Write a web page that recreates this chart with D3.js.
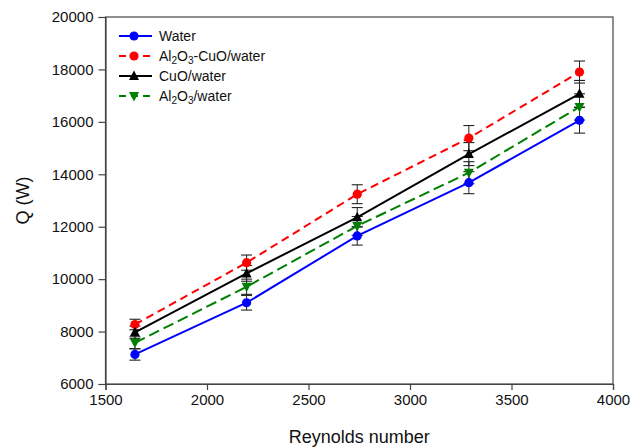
<!DOCTYPE html>
<html><head><meta charset="utf-8">
<script src="https://cdn.jsdelivr.net/npm/d3@7"></script>
<style>body{margin:0;background:#fff}svg{display:block;font-family:"Liberation Sans",Arial,sans-serif}</style>
</head><body><svg id="c" width="644" height="448"></svg>
<script>
const reynolds = [1645, 2195, 2740, 3290, 3835];
const water = [7130, 9100, 11650, 13680, 16060];
const waterErr = [220, 280, 350, 420, 490];
const hybrid = [8270, 10630, 13240, 15380, 17900];
const hybridErr = [200, 290, 360, 480, 420];
const cuo = [7970, 10220, 12360, 14770, 17070];
const cuoErr = [240, 300, 370, 440, 510];
const al2o3 = [7570, 9710, 12030, 14060, 16570];
const al2o3Err = [230, 290, 360, 420, 500];
const xTicks = [1500, 2000, 2500, 3000, 3500, 4000];
const yTicks = [6000, 8000, 10000, 12000, 14000, 16000, 18000, 20000];

const series = [
  {name: "Water", vals: water, err: waterErr, color: "#0000ff", dash: null, sym: "circle"},
  {name: "Al2O3-CuO/water", vals: hybrid, err: hybridErr, color: "#ff0000", dash: "8,5", sym: "circle"},
  {name: "CuO/water", vals: cuo, err: cuoErr, color: "#000000", dash: null, sym: "up"},
  {name: "Al2O3/water", vals: al2o3, err: al2o3Err, color: "#008000", dash: "11,5", sym: "down"}
];

const svg = d3.select("#c");
const L = 105.5, R = 613, T = 17, B = 384;
const x = d3.scaleLinear().domain([1500, 4000]).range([L, R]);
const y = d3.scaleLinear().domain([6000, 20000]).range([B, T]);
const axisColor = "#444";

svg.append("rect").attr("x", L).attr("y", T).attr("width", R - L).attr("height", B - T)
  .attr("fill", "none").attr("stroke", axisColor).attr("stroke-width", 1.2);

const xa = svg.append("g").attr("transform", `translate(0,${B})`)
  .call(d3.axisBottom(x).tickValues(xTicks).tickSize(6).tickPadding(4).tickFormat(d3.format("d")));
const ya = svg.append("g").attr("transform", `translate(${L},0)`)
  .call(d3.axisLeft(y).tickValues(yTicks).tickSize(7).tickPadding(5).tickFormat(d3.format("d")));
[xa, ya].forEach(a => {
  a.select(".domain").attr("stroke", axisColor).attr("stroke-width", 1.2);
  a.selectAll(".tick line").attr("stroke", axisColor).attr("stroke-width", 1.2);
  a.selectAll("text").attr("font-size", 15).attr("fill", "#111").attr("font-family", "Liberation Sans, Arial, sans-serif");
});

svg.append("text").attr("x", (L + R) / 2).attr("y", 443).attr("text-anchor", "middle")
  .attr("font-size", 18).attr("fill", "#111").text("Reynolds number");
svg.append("text").attr("transform", `translate(29,${(T + B) / 2}) rotate(-90)`).attr("text-anchor", "middle")
  .attr("font-size", 18).attr("fill", "#111").text("Q (W)");

function drawSym(g, s, cx, cy) {
  if (s.sym === "circle") {
    g.append("circle").attr("cx", cx).attr("cy", cy).attr("r", 4.6).attr("fill", s.color);
  } else {
    const h = 5;
    const pts = s.sym === "up"
      ? [[cx, cy - h - 0.5], [cx - h, cy + h - 1], [cx + h, cy + h - 1]]
      : [[cx, cy + h + 0.5], [cx - h, cy - h + 1], [cx + h, cy - h + 1]];
    g.append("polygon").attr("points", pts.map(p => p.join(",")).join(" ")).attr("fill", s.color);
  }
}

const line = d3.line().x((d, i) => x(reynolds[i])).y(d => y(d));
const plot = svg.append("g");
series.forEach(s => {
  s.vals.forEach((v, i) => {
    const cx = x(reynolds[i]);
    const y1 = y(v + s.err[i]), y2 = y(v - s.err[i]);
    plot.append("line").attr("x1", cx).attr("x2", cx).attr("y1", y1).attr("y2", y2).attr("stroke", "#222").attr("stroke-width", 1);
    [y1, y2].forEach(yy => plot.append("line").attr("x1", cx - 5.5).attr("x2", cx + 5.5).attr("y1", yy).attr("y2", yy).attr("stroke", "#222").attr("stroke-width", 1.1));
  });
});
series.forEach(s => {
  plot.append("path").attr("d", line(s.vals)).attr("fill", "none").attr("stroke", s.color)
    .attr("stroke-width", 2).attr("stroke-dasharray", s.dash);
  s.vals.forEach((v, i) => drawSym(plot, s, x(reynolds[i]), y(v)));
});

const lg = svg.append("g");
const rows = [36, 56, 76, 96];
series.forEach((s, k) => {
  const yy = rows[k];
  lg.append("line").attr("x1", 119).attr("x2", 152).attr("y1", yy).attr("y2", yy)
    .attr("stroke", s.color).attr("stroke-width", 2).attr("stroke-dasharray", s.dash ? "7,5" : null);
  drawSym(lg, s, 134, yy);
  const t = lg.append("text").attr("x", 159).attr("y", yy + 5).attr("font-size", 14).attr("fill", "#111");
  const parts = s.name.match(/[A-Za-z]+|\d|[^A-Za-z\d]+/g);
  let prevSub = false;
  parts.forEach(p => {
    const isSub = /^\d$/.test(p);
    const ts = t.append("tspan").text(p);
    if (isSub) ts.attr("font-size", 10);
    ts.attr("dy", isSub && !prevSub ? 3 : (!isSub && prevSub ? -3 : 0));
    prevSub = isSub;
  });
});
</script></body></html>
